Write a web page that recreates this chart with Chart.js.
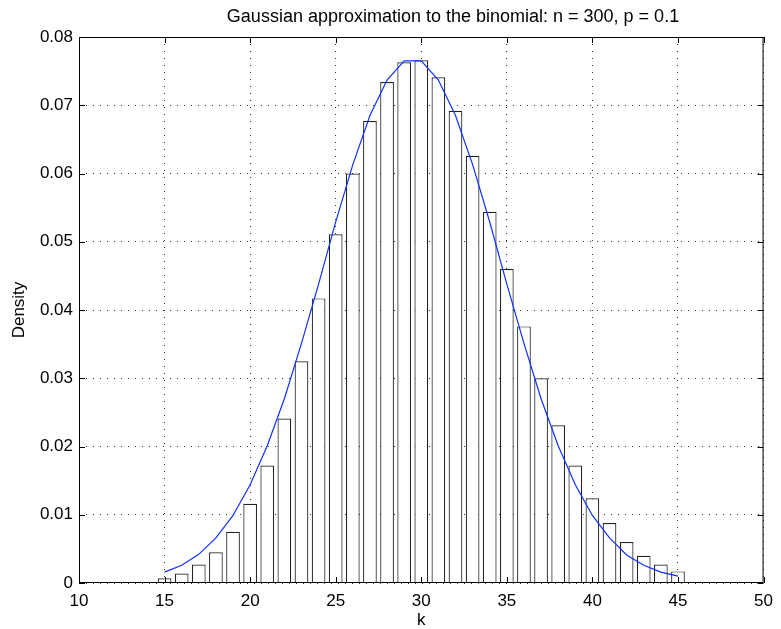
<!DOCTYPE html>
<html>
<head>
<meta charset="utf-8">
<script src="https://cdn.jsdelivr.net/npm/chart.js@4.4.1/dist/chart.umd.min.js"></script>
<style>
  html, body { margin: 0; padding: 0; background: #ffffff; }
  #wrap { width: 781px; height: 629px; }
</style>
</head>
<body>
<div id="wrap"><canvas id="chart" width="781" height="629"></canvas></div>
<script>
// ─── DATA ─────────────────────────────────────────────────────────────────
const TITLE = 'Gaussian approximation to the binomial: n = 300, p = 0.1';
const X_LABEL = 'k';
const Y_LABEL = 'Density';
const X_RANGE = [10, 50];
const X_STEP = 5;
const Y_RANGE = [0, 0.08];
const Y_STEP = 0.01;

const K = [15, 16, 17, 18, 19, 20, 21, 22, 23, 24, 25, 26, 27, 28, 29, 30,
           31, 32, 33, 34, 35, 36, 37, 38, 39, 40, 41, 42, 43, 44, 45];

// histogram bars (binomial pmf)
const BAR_DENSITY = [0.0007, 0.0014, 0.0027, 0.0045, 0.0075, 0.0116, 0.0172, 0.0241,
                     0.0325, 0.0417, 0.0511, 0.0600, 0.0677, 0.0734, 0.0763, 0.0766,
                     0.0741, 0.0692, 0.0626, 0.0544, 0.0460, 0.0376, 0.0300, 0.0231,
                     0.0172, 0.0124, 0.0088, 0.0060, 0.0040, 0.0027, 0.0017];

// blue gaussian curve, read at the same k
const CURVE_DENSITY = [0.0016, 0.0026, 0.0042, 0.0066, 0.0099, 0.0144, 0.0201, 0.0270,
                       0.0351, 0.0438, 0.0529, 0.0613, 0.0685, 0.0737, 0.0765, 0.0765,
                       0.0737, 0.0685, 0.0613, 0.0529, 0.0438, 0.0351, 0.0270, 0.0201,
                       0.0144, 0.0099, 0.0066, 0.0041, 0.0026, 0.0016, 0.0010];

// ─── STYLE ────────────────────────────────────────────────────────────────
const FONT = "'Liberation Sans', Helvetica, Arial, sans-serif";
Chart.defaults.font.family = FONT;
Chart.defaults.color = '#000000';

const GRID = {
  color: 'rgba(0,0,0,0.8)',
  lineWidth: 1,
  drawTicks: false
};
// in v4 the grid dash lives under border
const BORDER = { display: false, dash: [1, 6] };

// box + inward tick marks (matlab look) and the title
const matlabFrame = {
  id: 'matlabFrame',
  afterDatasetsDraw(chart) {
    const { ctx, chartArea: a, scales } = chart;
    const L = 6;
    ctx.save();
    ctx.strokeStyle = '#000';
    ctx.lineWidth = 1;
    ctx.beginPath();
    scales.x.ticks.forEach(t => {
      const px = Math.round(scales.x.getPixelForValue(t.value)) + 0.5;
      ctx.moveTo(px, a.bottom); ctx.lineTo(px, a.bottom - L);
      ctx.moveTo(px, a.top); ctx.lineTo(px, a.top + L);
    });
    scales.y.ticks.forEach(t => {
      const py = Math.round(scales.y.getPixelForValue(t.value)) + 0.5;
      ctx.moveTo(a.left, py); ctx.lineTo(a.left + L, py);
      ctx.moveTo(a.right, py); ctx.lineTo(a.right - L, py);
    });
    ctx.stroke();
    ctx.strokeRect(a.left + 0.5, a.top + 0.5, a.right - a.left - 1, a.bottom - a.top - 1);
    ctx.restore();
  },
  afterDraw(chart) {
    const { ctx } = chart;
    ctx.save();
    ctx.fillStyle = '#000';
    ctx.font = '18px ' + FONT;
    ctx.textAlign = 'center';
    ctx.textBaseline = 'middle';
    ctx.fillText(TITLE, 453, 17);
    ctx.restore();
  }
};

// ─── CHART ────────────────────────────────────────────────────────────────
new Chart(document.getElementById('chart'), {
  type: 'bar',
  data: {
    datasets: [
      {
        type: 'line',
        data: K.map((k, i) => ({ x: k, y: CURVE_DENSITY[i] })),
        borderColor: '#1030ff',
        borderWidth: 1.2,
        pointRadius: 0,
        tension: 0,
        order: 0
      },
      {
        type: 'bar',
        data: K.map((k, i) => ({ x: k, y: BAR_DENSITY[i] })),
        backgroundColor: '#ffffff',
        borderColor: '#222222',
        borderWidth: 1.2,
        barPercentage: 0.8,
        categoryPercentage: 1.0,
        order: 1
      }
    ]
  },
  options: {
    responsive: false,
    animation: false,
    devicePixelRatio: 1,
    layout: { padding: { top: 37, right: 13, left: 0, bottom: 0 } },
    plugins: {
      legend: { display: false },
      tooltip: { enabled: false }
    },
    scales: {
      x: {
        type: 'linear',
        min: X_RANGE[0], max: X_RANGE[1],
        offset: false,
        grid: { ...GRID, offset: false },
        border: BORDER,
        ticks: { stepSize: X_STEP, padding: 8, font: { size: 17 }, maxRotation: 0 },
        title: { display: true, text: X_LABEL, font: { size: 17, lineHeight: 1.0 }, padding: { top: 0, bottom: 0 } },
        afterFit: s => { s.height = 46; }
      },
      y: {
        min: Y_RANGE[0], max: Y_RANGE[1],
        grid: GRID,
        border: BORDER,
        ticks: { stepSize: Y_STEP, padding: 6, font: { size: 17 } },
        title: { display: true, text: Y_LABEL, font: { size: 17 }, padding: { top: 9, bottom: 0 } },
        afterFit: s => { s.width = 79; }
      }
    }
  },
  plugins: [matlabFrame]
});
</script>
</body>
</html>
